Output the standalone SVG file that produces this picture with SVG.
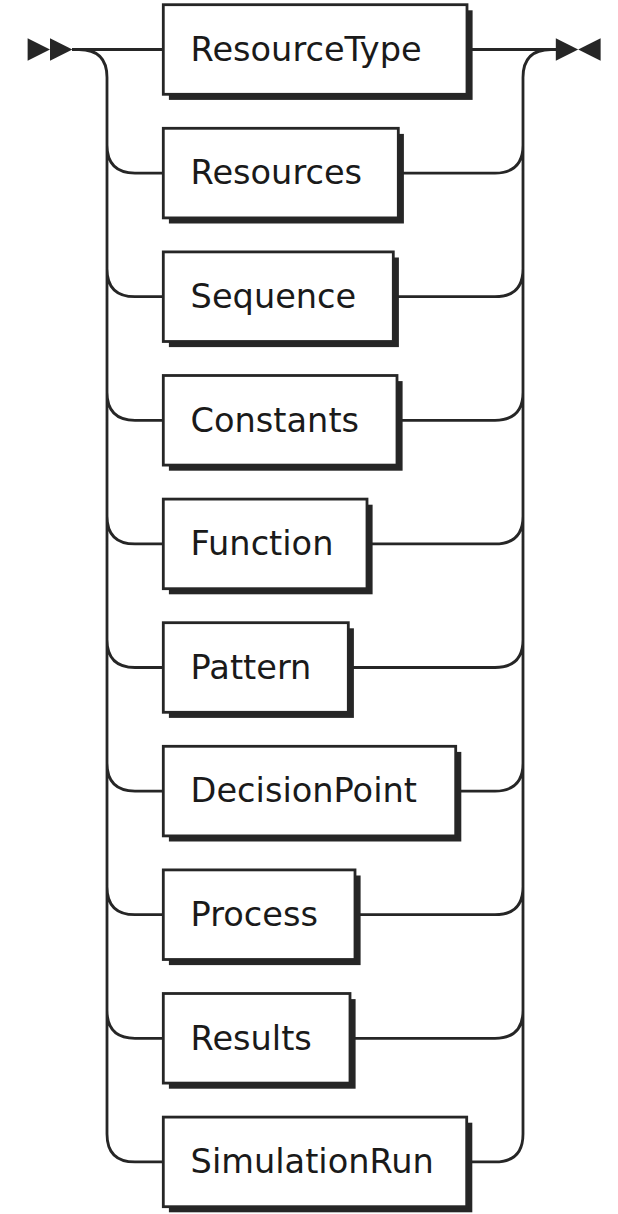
<svg xmlns="http://www.w3.org/2000/svg" width="618" height="1214" viewBox="0 0 618 1214">
<style>
.shadow{fill:#262626}
.box{fill:#fff;stroke:#262626;stroke-width:2.8}
.label{font-family:"DejaVu Sans",sans-serif;font-size:33.6px;fill:#1a1a1a}
.line{fill:none;stroke:#262626;stroke-width:2.8}
.arrow{fill:#262626}
</style>
<rect width="618" height="1214" fill="#fff"/>
<g id="connectors">
<path class="line" d="M72 49.5 H163.3 M79 49.5 Q107 49.5 107 77.5 V1133.9 Q107 1161.9 135 1161.9 H163.3
M107 145.1 Q107 173.1 135 173.1 H163.3
M107 268.7 Q107 296.7 135 296.7 H163.3
M107 392.3 Q107 420.3 135 420.3 H163.3
M107 515.9 Q107 543.9 135 543.9 H163.3
M107 639.5 Q107 667.5 135 667.5 H163.3
M107 763.1 Q107 791.1 135 791.1 H163.3
M107 886.7 Q107 914.7 135 914.7 H163.3
M107 1010.3 Q107 1038.3 135 1038.3 H163.3"/>
<path class="line" d="M467 49.5 H557 M551 49.5 Q523 49.5 523 77.5 V1133.9 Q523 1161.9 495 1161.9 H466.7
M398.3 173.1 H495 Q523 173.1 523 145.1
M393.3 296.7 H495 Q523 296.7 523 268.7
M397 420.3 H495 Q523 420.3 523 392.3
M367 543.9 H495 Q523 543.9 523 515.9
M348.3 667.5 H495 Q523 667.5 523 639.5
M455.7 791.1 H495 Q523 791.1 523 763.1
M355 914.7 H495 Q523 914.7 523 886.7
M350 1038.3 H495 Q523 1038.3 523 1010.3"/>
<polygon class="arrow" points="50 49.5 27.6 38.3 27.6 60.7"/>
<polygon class="arrow" points="72.4 49.5 50 38.3 50 60.7"/>
<polygon class="arrow" points="578.2 49.5 555.8 38.3 555.8 60.7"/>
<polygon class="arrow" points="578.2 49.5 600.6 38.3 600.6 60.7"/>
</g>
<g id="ResourceType">
<rect class="shadow" x="168.9" y="10.3" width="303.7" height="89.6"/>
<rect class="box" x="163.3" y="4.7" width="303.7" height="89.6"/>
<text class="label" x="190.6" y="60.7">ResourceType</text>
</g>
<g id="Resources">
<rect class="shadow" x="168.9" y="133.9" width="235" height="89.6"/>
<rect class="box" x="163.3" y="128.3" width="235" height="89.6"/>
<text class="label" x="190.6" y="184.3">Resources</text>
</g>
<g id="Sequence">
<rect class="shadow" x="168.9" y="257.5" width="230" height="89.6"/>
<rect class="box" x="163.3" y="251.9" width="230" height="89.6"/>
<text class="label" x="190.6" y="307.9">Sequence</text>
</g>
<g id="Constants">
<rect class="shadow" x="168.9" y="381.1" width="233.7" height="89.6"/>
<rect class="box" x="163.3" y="375.5" width="233.7" height="89.6"/>
<text class="label" x="190.6" y="431.5">Constants</text>
</g>
<g id="Function">
<rect class="shadow" x="168.9" y="504.7" width="203.7" height="89.6"/>
<rect class="box" x="163.3" y="499.1" width="203.7" height="89.6"/>
<text class="label" x="190.6" y="555.1">Function</text>
</g>
<g id="Pattern">
<rect class="shadow" x="168.9" y="628.3" width="185" height="89.6"/>
<rect class="box" x="163.3" y="622.7" width="185" height="89.6"/>
<text class="label" x="190.6" y="678.7">Pattern</text>
</g>
<g id="DecisionPoint">
<rect class="shadow" x="168.9" y="751.9" width="292.4" height="89.6"/>
<rect class="box" x="163.3" y="746.3" width="292.4" height="89.6"/>
<text class="label" x="190.6" y="802.3">DecisionPoint</text>
</g>
<g id="Process">
<rect class="shadow" x="168.9" y="875.5" width="191.7" height="89.6"/>
<rect class="box" x="163.3" y="869.9" width="191.7" height="89.6"/>
<text class="label" x="190.6" y="925.9">Process</text>
</g>
<g id="Results">
<rect class="shadow" x="168.9" y="999.1" width="186.7" height="89.6"/>
<rect class="box" x="163.3" y="993.5" width="186.7" height="89.6"/>
<text class="label" x="190.6" y="1049.5">Results</text>
</g>
<g id="SimulationRun">
<rect class="shadow" x="168.9" y="1122.7" width="303.4" height="89.6"/>
<rect class="box" x="163.3" y="1117.1" width="303.4" height="89.6"/>
<text class="label" x="190.6" y="1173.1">SimulationRun</text>
</g>
</svg>
